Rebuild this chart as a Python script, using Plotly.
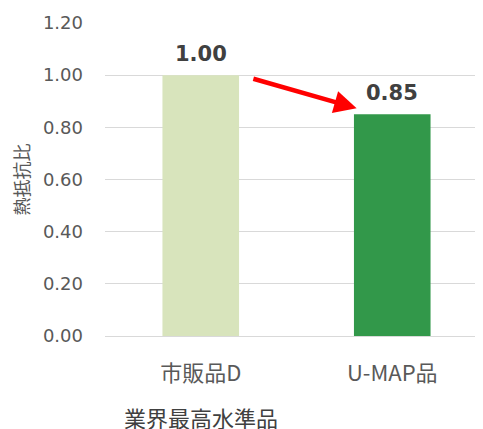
import plotly.graph_objects as go

categories = ["市販品D", "U-MAP品"]
values = [1.00, 0.85]
value_labels = ["1.00", "0.85"]
bar_colors = ["#d8e4bc", "#32984a"]
y_ticks = [0.0, 0.2, 0.4, 0.6, 0.8, 1.0, 1.2]
y_tick_labels = ["0.00", "0.20", "0.40", "0.60", "0.80", "1.00", "1.20"]
y_title = "熱抵抗比"
sub_label = "業界最高水準品"

CJK = "Noto Sans CJK JP, sans-serif"
NUM = "DejaVu Sans, Verdana, sans-serif"

xs = list(range(len(categories)))

fig = go.Figure()
fig.add_trace(go.Bar(
    x=xs, y=values,
    marker=dict(color=bar_colors, line=dict(width=0)),
    width=0.40,
    hoverinfo="skip",
))

# value labels above bars
for xi, v, lab in zip(xs, values, value_labels):
    fig.add_annotation(
        x=xi, y=v, xref="x", yref="y", text=lab, showarrow=False,
        yanchor="bottom", xanchor="center", yshift=7,
        font=dict(family=NUM, size=21, color="#404040", weight="bold"),
    )

# arrow from first bar toward second bar
fig.add_annotation(
    x=0.814, y=0.873, ax=0.267, ay=0.988,
    xref="x", yref="y", axref="x", ayref="y",
    text="", showarrow=True, arrowhead=2, arrowsize=1.0,
    arrowwidth=4.5, arrowcolor="#ff0000", standoff=0,
)

fig.add_annotation(
    x=0, y=-0.258, xref="x", yref="paper",
    text=sub_label, showarrow=False, yanchor="middle", xanchor="center",
    font=dict(family=CJK, size=22, color="#404040"),
)

fig.update_layout(
    width=483, height=429,
    margin=dict(l=97, r=3, t=15, b=101),
    paper_bgcolor="white", plot_bgcolor="white",
    showlegend=False,
)
fig.update_xaxes(
    range=[-0.5, 1.5],
    tickmode="array", tickvals=xs, ticktext=categories,
    tickfont=dict(family=CJK, size=22, color="#595959"),
    ticks="", ticklabelstandoff=18,
    showgrid=False, zeroline=False,
    showline=True, linecolor="#d9d9d9", linewidth=1,
)
fig.update_yaxes(
    range=[0, 1.2],
    tickmode="array", tickvals=y_ticks, ticktext=y_tick_labels,
    tickfont=dict(family=NUM, size=18, color="#595959"),
    ticks="", ticklabelstandoff=21,
    showgrid=True, gridcolor="#d9d9d9", gridwidth=1,
    zeroline=False, showline=False,
    title=dict(text=y_title, font=dict(family=CJK, size=18, color="#595959"), standoff=12),
)

fig.write_html("out.html")
